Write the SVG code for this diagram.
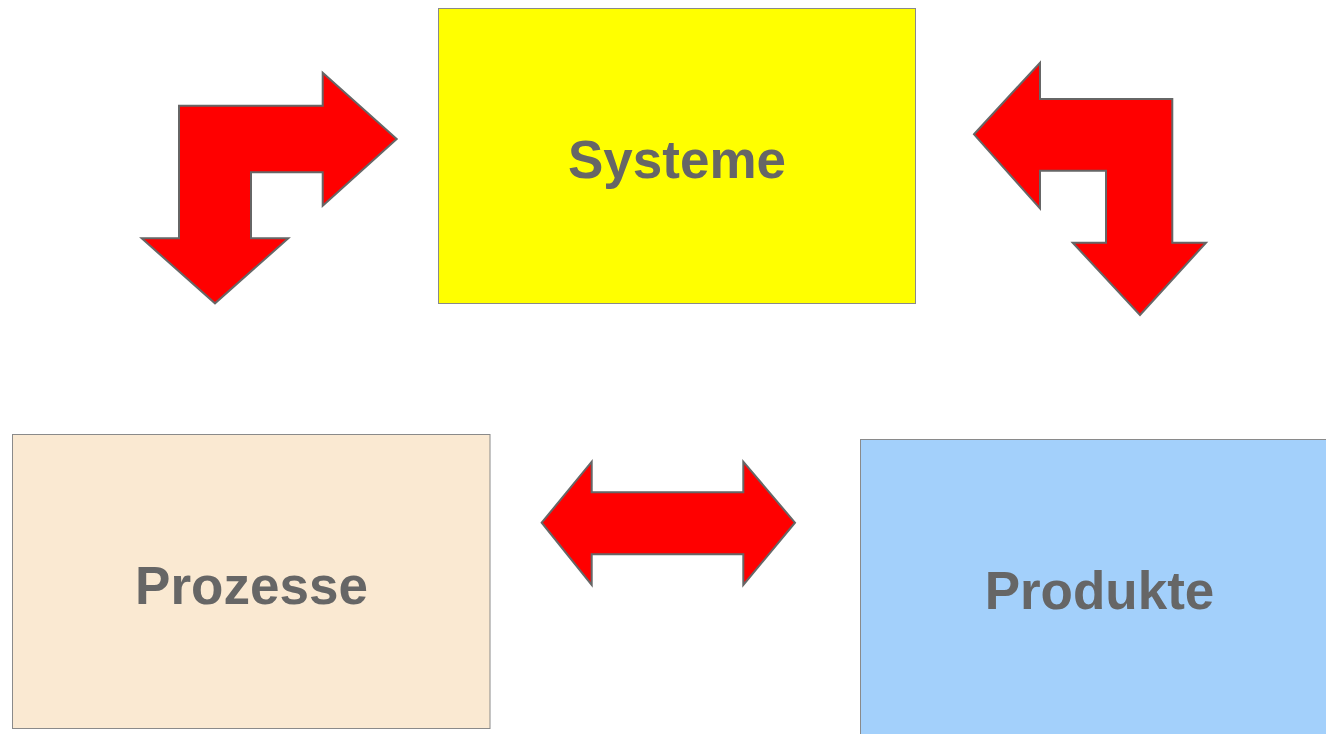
<svg xmlns="http://www.w3.org/2000/svg" width="1326" height="734" viewBox="0 0 1326 734">
<style>
.box{stroke:#8a8a8a;stroke-width:1}
.lbl{font-family:"Liberation Sans",Arial,sans-serif;font-weight:bold;font-size:53px;fill:#666666;text-anchor:middle}
.arr{fill:#ff0000;stroke:#666666;stroke-width:2;stroke-linejoin:miter}
</style>
<rect width="1326" height="734" fill="#ffffff"/>
<g id="systeme">
<rect class="box" x="438.5" y="8.5" width="477" height="295" fill="#ffff00"/>
<text class="lbl" x="677" y="178">Systeme</text>
</g>
<g id="prozesse">
<rect class="box" x="12.5" y="434.5" width="477.5" height="294" fill="#fae9d2"/>
<text class="lbl" x="251.5" y="604">Prozesse</text>
</g>
<g id="produkte">
<rect class="box" x="860.5" y="439.5" width="480" height="300" fill="#a3d0fb"/>
<text class="lbl" x="1099.5" y="609">Produkte</text>
</g>
<g id="connectors">
<polygon class="arr" points="179,105.7 322.7,105.7 322.7,72.7 396.7,139 322.7,205.7 322.7,172.3 251,172.3 251,238.3 288.3,238.3 215,303.3 141.7,238.3 179,238.3"/>
<polygon class="arr" points="974,134.3 1040,62.7 1040,99 1172.3,99 1172.3,242.7 1206,242.7 1140,315 1072.7,242.7 1106,242.7 1106,170.7 1040,170.7 1040,208.3"/>
<polygon class="arr" points="541.7,522.7 591.7,461.7 591.7,492.3 743.3,492.3 743.3,461.7 795,522.7 743.3,585 743.3,554.3 591.7,554.3 591.7,585"/>
</g>
</svg>
